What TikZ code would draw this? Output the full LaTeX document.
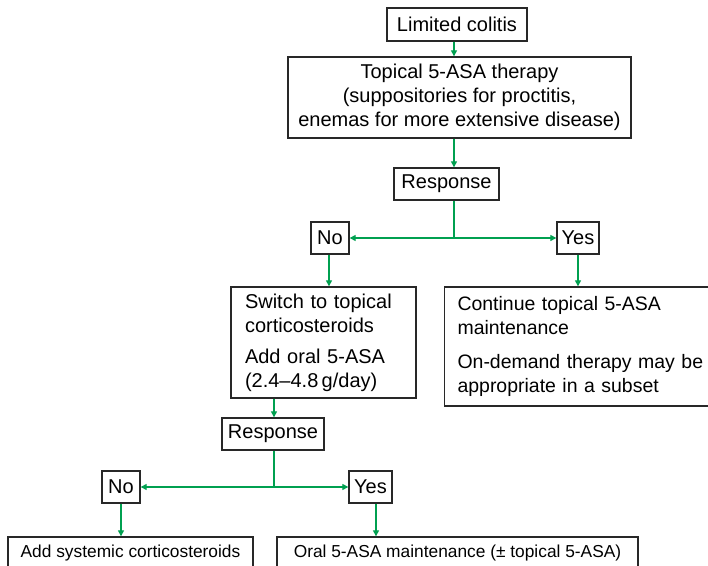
\documentclass[tikz,border=0pt]{standalone}
\usepackage{fontspec}
\setmainfont{Liberation Sans}
\usetikzlibrary{arrows.meta}
\definecolor{flow}{RGB}{0,160,80}
\definecolor{edgec}{RGB}{40,40,40}
\begin{document}
\begin{tikzpicture}[x=0.75pt,y=-0.75pt,
  box/.style={draw=edgec,line width=1pt,inner sep=0pt,font=\fontsize{15}{18}\selectfont},
  smallbox/.style={draw=edgec,line width=1pt,inner sep=0pt,font=\fontsize{13}{16}\selectfont},
  link/.style={draw=flow,line width=0.9pt},
  arr/.style={link,-{Triangle[length=4.5pt,width=4.5pt]}}]
\useasboundingbox (0,0) rectangle (708,566);
\clip (0,0) rectangle (708,566);
\fill[white] (0,0) rectangle (708,566);
% nodes
\node[box,minimum width=105pt,minimum height=24.75pt] (lim) at (457,24.5) {Limited colitis};
\node[box,align=center,minimum width=257.25pt,minimum height=60.75pt] (top) at (459.5,97.5)
  {Topical 5-ASA therapy\\(suppositories for proctitis,\\enemas for more extensive disease)};
\node[box,minimum width=78.75pt,minimum height=24pt] (resp1) at (446.5,184) {Response};
\node[box,minimum width=28.5pt,minimum height=24pt] (no1) at (330,238) {No};
\node[box,minimum width=31.5pt,minimum height=24pt] (yes1) at (578,238) {Yes};
\node[box,align=left,text width=117.75pt,inner xsep=10.5pt,minimum height=83.25pt] (sw) at (323.5,342.5)
  {Switch to topical\\corticosteroids\\[5pt]Add oral 5-ASA\\(2.4–4.8\,g/day)};
\node[box,font=\fontsize{14.6}{18}\selectfont,align=left,text width=220pt,inner xsep=10pt,minimum height=89.25pt] (cont) at (604.2,346.5)
  {Continue topical 5-ASA\\maintenance\\[7pt]On-demand therapy may be\\appropriate in a subset};
\node[box,minimum width=76.5pt,minimum height=24pt] (resp2) at (273,434) {Response};
\node[box,minimum width=28.5pt,minimum height=24pt] (no2) at (121,487) {No};
\node[box,minimum width=32.25pt,minimum height=24pt] (yes2) at (370.5,487) {Yes};
\node[smallbox,minimum width=183.75pt,minimum height=24pt] (add) at (130.5,553) {Add systemic corticosteroids};
\node[smallbox,minimum width=270.75pt,minimum height=24pt] (oral) at (457.5,553) {Oral 5-ASA maintenance (± topical 5-ASA)};
% helper coordinates
\coordinate (c1) at (454,0);
\coordinate (j1) at (454,238);
\coordinate (c2) at (329,0);
\coordinate (j2) at (274,487);
\coordinate (c3) at (376,0);
% connectors
\draw[arr] (lim.south -| c1) -- (top.north -| c1);
\draw[arr] (top.south -| c1) -- (resp1.north -| c1);
\draw[link] (resp1.south -| c1) -- (j1);
\draw[arr] (j1) -- (no1.east);
\draw[arr] (j1) -- (yes1.west);
\draw[arr] (no1.south -| c2) -- (sw.north -| c2);
\draw[arr] (yes1.south) -- (cont.north -| yes1.south);
\draw[arr] (sw.south -| j2) -- (resp2.north -| j2);
\draw[link] (resp2.south -| j2) -- (j2);
\draw[arr] (j2) -- (no2.east);
\draw[arr] (j2) -- (yes2.west);
\draw[arr] (no2.south) -- (add.north -| no2.south);
\draw[arr] (yes2.south -| c3) -- (oral.north -| c3);
\end{tikzpicture}
\end{document}
